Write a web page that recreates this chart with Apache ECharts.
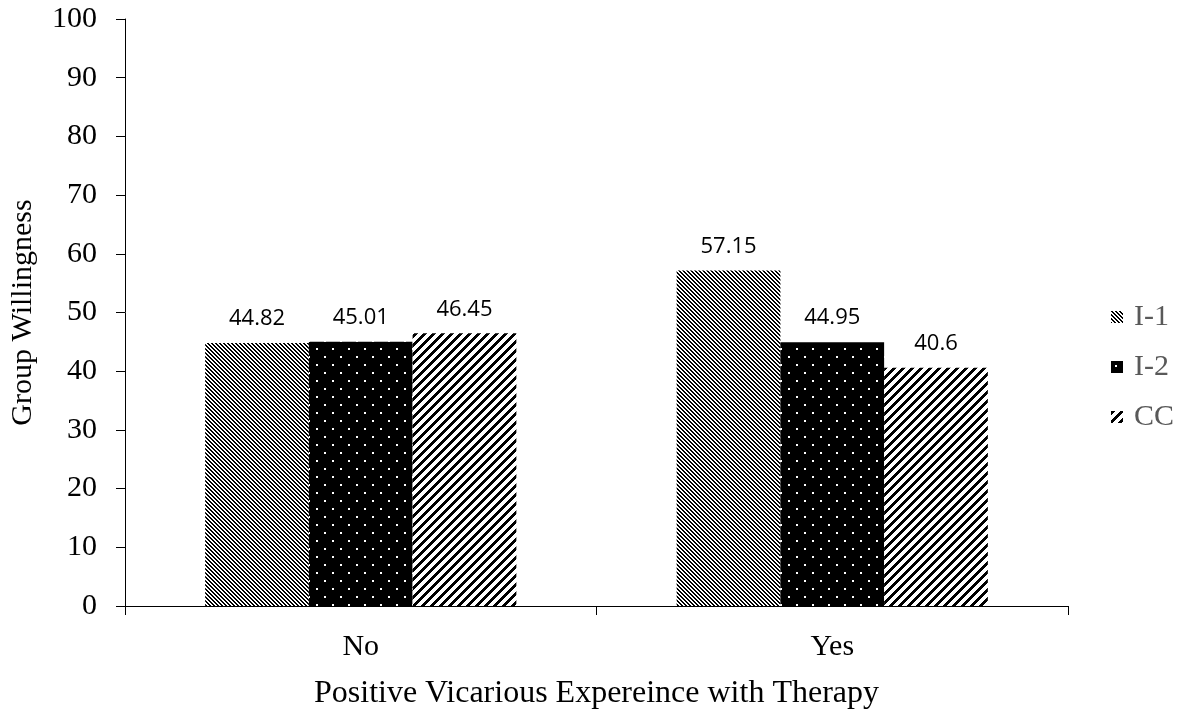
<!DOCTYPE html>
<html><head><meta charset="utf-8">
<script src="https://cdn.jsdelivr.net/npm/echarts@6/dist/echarts.min.js"></script>
<style>html,body{margin:0;padding:0;background:#fff}#c{width:1185px;height:710px}</style>
</head><body><div id="c"></div>
<script>
const categories = ['No', 'Yes'];
const seriesNames = ['I-1', 'I-2', 'CC'];
const valuesI1 = [44.82, 57.15];
const valuesI2 = [45.01, 44.95];
const valuesCC = [46.45, 40.6];
const labelsI1 = ['44.82', '57.15'];
const labelsI2 = ['45.01', '44.95'];
const labelsCC = ['46.45', '40.6'];

function makeTile(w, h, fn) {
  const c = document.createElement('canvas');
  c.width = w; c.height = h;
  const ctx = c.getContext('2d');
  const img = ctx.createImageData(w, h);
  for (let y = 0; y < h; y++) for (let x = 0; x < w; x++) {
    const v = fn(x, y) ? 0 : 255;
    const i = (y * w + x) * 4;
    img.data[i] = v; img.data[i+1] = v; img.data[i+2] = v; img.data[i+3] = 255;
  }
  ctx.putImageData(img, 0, 0);
  return c;
}
const patI1 = makeTile(8, 8, (x, y) => (((x - y) % 4) + 4) % 4 < 2);
const patI2 = makeTile(16, 16, (x, y) => !((x >= 4 && x < 6 && y >= 4 && y < 6) || (x >= 12 && x < 14 && y >= 12 && y < 14)));
const patCC = makeTile(9, 9, (x, y) => ((x + y) % 9) < 4);

const fills = [patI1, patI2, patCC].map(p => ({ image: p, repeat: 'repeat' }));
const vals = [valuesI1, valuesI2, valuesCC];
const labs = [labelsI1, labelsI2, labelsCC];

const serif = '"Liberation Serif", "Times New Roman", serif';
const chart = echarts.init(document.getElementById('c'), null, { renderer: 'canvas' });
chart.setOption({
  animation: false,
  backgroundColor: '#fff',
  grid: { left: 125, right: 117, top: 19, bottom: 104, containLabel: false, outerBoundsMode: 'none' },
  legend: {
    orient: 'vertical', left: 1106, top: 297, itemWidth: 12, itemHeight: 12, itemGap: 20,
    icon: 'rect',
    textStyle: { fontFamily: serif, fontSize: 30, color: '#595959', padding: [0,0,0,6] },
    data: seriesNames
  },
  xAxis: {
    type: 'category', data: categories,
    name: 'Positive Vicarious Expereince with Therapy', nameLocation: 'middle', nameGap: 72,
    nameTextStyle: { fontFamily: serif, fontSize: 32, color: '#000' },
    axisLine: { lineStyle: { color: '#000', width: 1 } },
    axisTick: { show: true, length: 9, alignWithLabel: false, lineStyle: { color: '#000' } },
    axisLabel: { fontFamily: serif, fontSize: 30, color: '#000', margin: 26 }
  },
  yAxis: {
    type: 'value', min: 0, max: 100, interval: 10,
    name: 'Group Willingness', nameLocation: 'middle', nameGap: 87, nameRotate: 90,
    nameTextStyle: { fontFamily: serif, fontSize: 30, color: '#000' },
    axisLine: { show: true, lineStyle: { color: '#000', width: 1 } },
    axisTick: { show: true, length: 9, lineStyle: { color: '#000' } },
    axisLabel: { fontFamily: serif, fontSize: 30, color: '#000', margin: 28 },
    splitLine: { show: false }
  },
  series: seriesNames.map((n, i) => ({
    name: n, type: 'bar', data: vals[i], barWidth: '22%', barGap: '0%',
    itemStyle: { color: fills[i] },
    label: {
      show: true, position: 'top', distance: 13,
      fontFamily: '"Open Sans", sans-serif', fontSize: 22, color: '#000',
      formatter: p => labs[i][p.dataIndex]
    }
  }))
});
</script></body></html>
